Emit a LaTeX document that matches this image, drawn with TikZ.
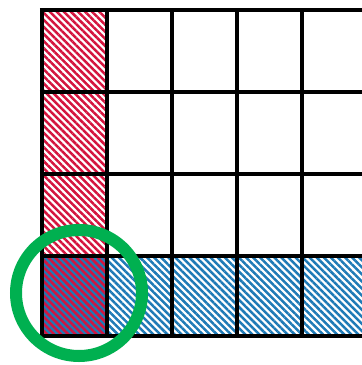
\documentclass[tikz,border=0pt]{standalone}
\usepackage{xcolor}
\usepackage{tikz}
\usetikzlibrary{patterns.meta}

\definecolor{hatchred}{RGB}{212,20,62}
\definecolor{hatchblue}{RGB}{30,122,182}
\definecolor{ringgreen}{RGB}{0,176,80}

\begin{document}
\begin{tikzpicture}[
  x=1pt, y=-1pt,
  redcell/.style={pattern={Lines[angle=-45, distance=5pt, line width=2.5pt]}, pattern color=hatchred},
  bluecell/.style={pattern={Lines[angle=-45, distance=5pt, line width=2.5pt]}, pattern color=hatchblue},
  gridline/.style={line width=4.5pt, black},
  ring/.style={line width=12pt, ringgreen}
]
\useasboundingbox (0,0) rectangle (362,365);
% left column (red) and bottom row (blue)
\fill[redcell] (42,10) rectangle (107,256);
\fill[bluecell] (107,256) rectangle (362,336);
\fill[hatchblue] (42,256) rectangle (107,336);
\fill[redcell] (42,256) rectangle (107,336);
% grid
\foreach \x in {42,107,172,237,302}
  \draw[gridline] (\x,10) -- (\x,336);
\foreach \y in {10,92,174,256,336}
  \draw[gridline] (39.75,\y) -- (362,\y);
% highlight of the corner cell
\draw[ring] (79,293) circle (63);
\end{tikzpicture}
\end{document}
